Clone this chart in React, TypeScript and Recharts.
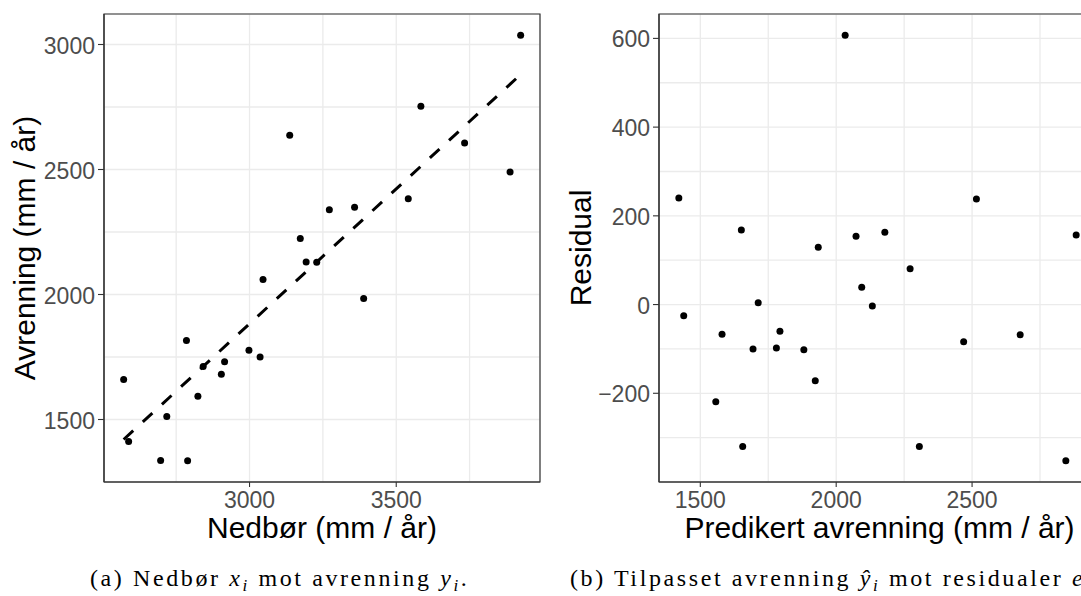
import React from 'react';
import { ScatterChart, Scatter, XAxis, YAxis, CartesianGrid, Label, ReferenceArea } from 'recharts';

// (a) precipitation vs runoff
const precipitation = [3924, 3137, 3584, 3733, 3888, 3541, 3272, 3358, 3173, 3193, 3229, 3046, 3389, 2785, 2998, 3036, 2915, 2904, 2842, 2571, 2824, 2718, 2588, 2697, 2789];
const runoff = [3037, 2637, 2753, 2606, 2490, 2383, 2339, 2349, 2224, 2130, 2129, 2060, 1984, 1816, 1777, 1750, 1731, 1681, 1712, 1660, 1593, 1512, 1412, 1336, 1335];

// dashed regression line end points
const fitX = [2571, 3924];
const fitY = [1420, 2880];

// (b) fitted values vs residuals
const predicted = [2883, 2033, 2516, 2677, 2845, 2469, 2179, 2272, 2073, 2094, 2133, 1934, 2306, 1651, 1881, 1923, 1793, 1780, 1713, 1421, 1694, 1580, 1439, 1557, 1656];
const residual = [157, 607, 238, -68, -352, -84, 163, 81, 154, 39, -3, 129, -320, 168, -102, -172, -60, -98, 4, 240, -100, -67, -25, -219, -320];

// ticks: major (labelled) and minor (grid only)
const aXMajor = [3000, 3500];
const aXMinor = [2750, 3250, 3750];
const aYMajor = [1500, 2000, 2500, 3000];
const aYMinor = [1750, 2250, 2750];
const bXMajor = [1500, 2000, 2500];
const bXMinor = [1750, 2250, 2750];
const bYMajor = [-200, 0, 200, 400, 600];
const bYMinor = [-300, -100, 100, 300, 500];

const aXDomain = [2504, 3990];
const aYDomain = [1250, 3122];
const bXDomain = [1348, 2956];
const bYDomain = [-400, 655];

const scatterA = precipitation.map((x, i) => ({ x, y: runoff[i] }));
const fitLine = fitX.map((x, i) => ({ x, y: fitY[i] }));
const scatterB = predicted.map((x, i) => ({ x, y: residual[i] }));

const SANS = '"Liberation Sans", Arial, Helvetica, sans-serif';
const SERIF = '"Liberation Serif", "Times New Roman", serif';
const TICK_TEXT = '#4D4D4D';
const DARK = '#333333';
const GRID = '#EBEBEB';

const fmt = (v: number) => (v < 0 ? '\u2212' + Math.abs(v) : String(v));

const makeYTick = (major: number[]) => (props: any) => {
  const { x, y, payload } = props;
  if (!major.includes(payload.value)) return <g />;
  return (
    <g>
      <line x1={x + 3} x2={x + 9} y1={y} y2={y} stroke={DARK} strokeWidth={1.1} />
      <text x={x} y={y + 9} textAnchor="end" fontFamily={SANS} fontSize={23} fill={TICK_TEXT}>
        {fmt(payload.value)}
      </text>
    </g>
  );
};

const makeXTick = (major: number[]) => (props: any) => {
  const { x, y, payload } = props;
  if (!major.includes(payload.value)) return <g />;
  return (
    <g>
      <line x1={x} x2={x} y1={y - 5} y2={y} stroke={DARK} strokeWidth={1.1} />
      <text x={x} y={y + 21} textAnchor="middle" fontFamily={SANS} fontSize={23} fill={TICK_TEXT}>
        {fmt(payload.value)}
      </text>
    </g>
  );
};

const xTitle = (text: string, shift = 0) => (p: any) => {
  const vb = p.viewBox || { x: 0, y: 0, width: 0, height: 0 };
  return (
    <text x={vb.x + vb.width / 2 + shift} y={vb.y + 56} textAnchor="middle" fontFamily={SANS} fontSize={30} fill="#000">
      {text}
    </text>
  );
};

const yTitle = (text: string, baseX: number) => (p: any) => {
  const vb = p.viewBox || { x: 0, y: 0, width: 0, height: 0 };
  const cx = vb.x + baseX;
  const cy = vb.y + vb.height / 2;
  return (
    <text x={cx} y={cy} transform={`rotate(-90 ${cx} ${cy})`} textAnchor="middle" fontFamily={SANS} fontSize={30} fill="#000">
      {text}
    </text>
  );
};

const dot = (p: any) => <circle cx={p.cx} cy={p.cy} r={3.5} fill="#000" />;

const axisLine = { stroke: DARK, strokeWidth: 1.2 };

const Panel: React.FC<{
  data: { x: number; y: number }[];
  fit?: { x: number; y: number }[];
  xDomain: number[];
  yDomain: number[];
  xMajor: number[];
  xMinor: number[];
  yMajor: number[];
  yMinor: number[];
  yAxisWidth: number;
  right: number;
  xLabel: string;
  yLabel: string;
  yLabelX: number;
  xLabelShift?: number;
}> = (p) => (
  <ScatterChart width={560} height={596} margin={{ top: 14, right: p.right, bottom: 0, left: 0 }}>
    <CartesianGrid stroke={GRID} strokeWidth={1.3} />
    <XAxis
      type="number"
      dataKey="x"
      domain={p.xDomain}
      allowDataOverflow
      ticks={[...p.xMajor, ...p.xMinor].sort((a, b) => a - b)}
      height={114}
      tickSize={5}
      tickMargin={0}
      tickLine={false}
      axisLine={axisLine}
      tick={makeXTick(p.xMajor)}
      interval={0}
    >
      <Label content={xTitle(p.xLabel, p.xLabelShift || 0)} />
    </XAxis>
    <YAxis
      type="number"
      dataKey="y"
      domain={p.yDomain}
      allowDataOverflow
      ticks={[...p.yMajor, ...p.yMinor].sort((a, b) => a - b)}
      width={p.yAxisWidth}
      tickSize={9}
      tickMargin={0}
      tickLine={false}
      axisLine={axisLine}
      tick={makeYTick(p.yMajor)}
      interval={0}
    >
      <Label content={yTitle(p.yLabel, p.yLabelX)} />
    </YAxis>
    {/* panel border */}
    <ReferenceArea
      x1={p.xDomain[0]}
      x2={p.xDomain[1]}
      y1={p.yDomain[0]}
      y2={p.yDomain[1]}
      fill="none"
      fillOpacity={0}
      stroke={DARK}
      strokeWidth={1.2}
      ifOverflow="visible"
    />
    <Scatter data={p.data} fill="#000" shape={dot} isAnimationActive={false} />
    {p.fit && (
      <Scatter
        data={p.fit}
        fill="#000"
        shape={() => <g />}
        line={{ stroke: '#000', strokeWidth: 3, strokeDasharray: '13 13' }}
        isAnimationActive={false}
      />
    )}
  </ScatterChart>
);

const SUB = 5;

export default function App() {
  return (
    <div style={{ position: 'absolute', left: 0, top: 0, width: 1081, height: 596, overflow: 'hidden', background: '#fff' }}>
      <div style={{ position: 'absolute', left: 0, top: 0 }}>
        <Panel
          data={scatterA}
          fit={fitLine}
          xDomain={aXDomain}
          yDomain={aYDomain}
          xMajor={aXMajor}
          xMinor={aXMinor}
          yMajor={aYMajor}
          yMinor={aYMinor}
          yAxisWidth={104}
          right={20}
          xLabel="Nedbør (mm / år)"
          yLabel="Avrenning (mm / år)"
          yLabelX={35}
        />
      </div>
      <div style={{ position: 'absolute', left: 560, top: 0 }}>
        <Panel
          data={scatterB}
          xDomain={bXDomain}
          yDomain={bYDomain}
          xMajor={bXMajor}
          xMinor={bXMinor}
          yMajor={bYMajor}
          yMinor={bYMinor}
          yAxisWidth={99}
          right={24}
          xLabel="Predikert avrenning (mm / år)"
          yLabel="Residual"
          yLabelX={31}
          xLabelShift={2}
        />
      </div>
      <svg width={1081} height={596} style={{ position: 'absolute', left: 0, top: 0, pointerEvents: 'none' }}>
        <text x={90} y={586} fontFamily={SERIF} fontSize={24} letterSpacing={2.6} fill="#000">
          <tspan>(a) Nedbør </tspan>
          <tspan fontStyle="italic">x</tspan>
          <tspan fontStyle="italic" fontSize={17} dy={SUB}>i</tspan>
          <tspan dy={-SUB}> mot avrenning </tspan>
          <tspan fontStyle="italic">y</tspan>
          <tspan fontStyle="italic" fontSize={17} dy={SUB}>i</tspan>
          <tspan dy={-SUB}>.</tspan>
        </text>
        <text x={570} y={586} fontFamily={SERIF} fontSize={24} letterSpacing={2.6} fill="#000">
          <tspan>(b) Tilpasset avrenning </tspan>
          <tspan fontStyle="italic">ŷ</tspan>
          <tspan fontStyle="italic" fontSize={17} dy={SUB}>i</tspan>
          <tspan dy={-SUB}> mot residualer </tspan>
          <tspan fontStyle="italic">e</tspan>
          <tspan fontStyle="italic" fontSize={17} dy={SUB}>i</tspan>
        </text>
      </svg>
    </div>
  );
}
